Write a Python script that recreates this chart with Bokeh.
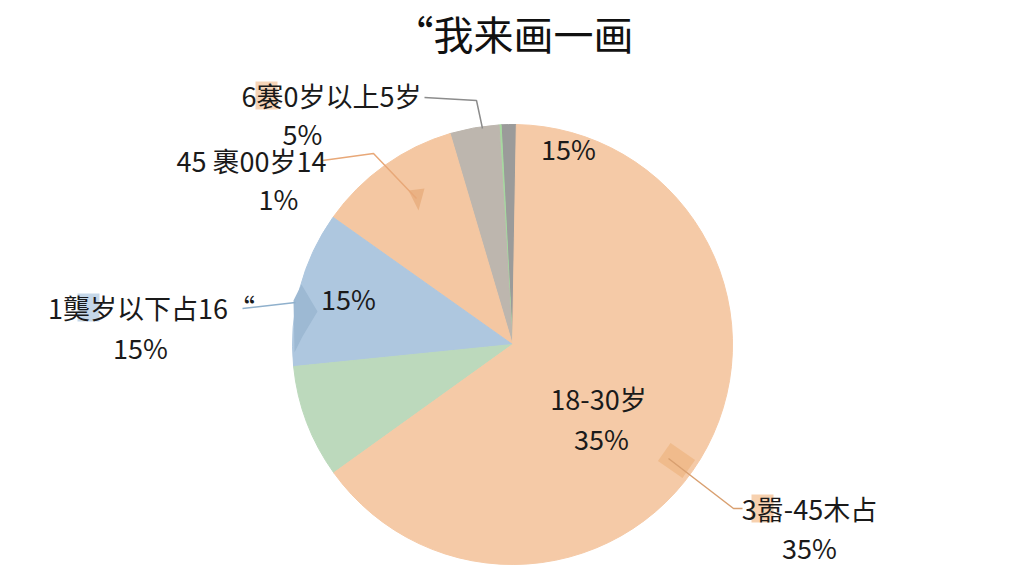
import math
from bokeh.plotting import figure
from bokeh.models import Range1d, ColumnDataSource
from bokeh.core.properties import value
from bokeh.embed import file_html
from bokeh.resources import INLINE

# ---- data ----
categories = ["dark", "thin", "60岁以上", "45-60岁", "18岁以下", "green", "18-45岁"]
shares = [1.1, 0.15, 3.6, 10.6, 11.4, 8.3, 64.75]
colors = ["#9b9b9a", "#a6d9a0", "#bdb6ae", "#f4c7a2", "#aec7df", "#bcd9bc", "#f5caa7"]
start_deg = 89.0

title_text = "“我来画一画"
label_texts = ["6褰0岁以上5岁", "5%", "45 裹00岁14", "1%", "1龑岁以下占16“", "15%",
               "15%", "15%", "18-30岁", "35%", "3嚣-45木占", "35%"]

FONT = value("Noto Sans CJK SC")

W, H = 1008, 568
p = figure(width=W, height=H, output_backend="svg", toolbar_location=None,
           x_range=Range1d(0, W), y_range=Range1d(576 - H, 576),
           min_border=0)
p.axis.visible = False
p.grid.visible = False
p.outline_line_color = None
p.background_fill_color = "white"
p.border_fill_color = "white"

def Y(py):
    return 576 - py

cx, cy, R = 512, Y(344), 220

total = sum(shares)
starts, ends = [], []
a = math.radians(start_deg)
for s in shares:
    starts.append(a)
    a += s / total * 2 * math.pi
    ends.append(a)

src = ColumnDataSource(dict(start=starts, end=ends, color=colors, cat=categories))
p.wedge(x=cx, y=cy, radius=R, start_angle="start", end_angle="end",
        fill_color="color", line_color="color", line_width=1, source=src)

# decorations on slices (leader markers)
p.rect(x=[676], y=[Y(460)], width=30, height=22, angle=math.radians(-35),
       fill_color="#eeb887", line_color=None, fill_alpha=0.85)
p.patch(x=[301, 317, 302, 294, 293], y=[Y(284), Y(311), Y(336), Y(352), Y(300)],
        fill_color="#9db9d3", line_color=None)
p.patch(x=[408, 424, 418], y=[Y(190), Y(188), Y(210)],
        fill_color="#eab284", line_color=None)

# highlights behind garbled characters
p.rect(x=[266, 88, 762], y=[Y(95), Y(307), Y(508)], width=[22, 22, 22], height=[28, 28, 28],
       fill_color=["#f3c9a6", "#b7cde2", "#f5c59b"], line_color=None, fill_alpha=0.8)

# leader lines
p.line(x=[424, 476, 482], y=[Y(97), Y(100), Y(128)], line_color="#8c8c8c", line_width=1.5)
p.line(x=[322, 373, 416], y=[Y(160), Y(153), Y(198)], line_color="#e8a878", line_width=1.5)
p.line(x=[242, 295], y=[Y(308), Y(302)], line_color="#8fb0cc", line_width=1.5)
p.line(x=[668, 733, 742], y=[Y(458), Y(508), Y(508)], line_color="#d9a070", line_width=1.5)

# labels
lx = [331, 302, 251, 278, 151, 140, 348, 568, 598, 601, 809, 809]
ly = [Y(95), Y(133), Y(160), Y(198), Y(307), Y(347), Y(298), Y(148), Y(398), Y(438), Y(508), Y(547)]
p.text(x=lx, y=ly, text=label_texts, text_align="center", text_baseline="middle",
       text_font=FONT, text_font_size="27px", text_color="#1a1a1a")

p.text(x=[513], y=[Y(32)], text=[title_text], text_align="center", text_baseline="middle",
       text_font=FONT, text_font_size="40px", text_color="#111111")

open("out.html", "w").write(file_html(p, INLINE))
